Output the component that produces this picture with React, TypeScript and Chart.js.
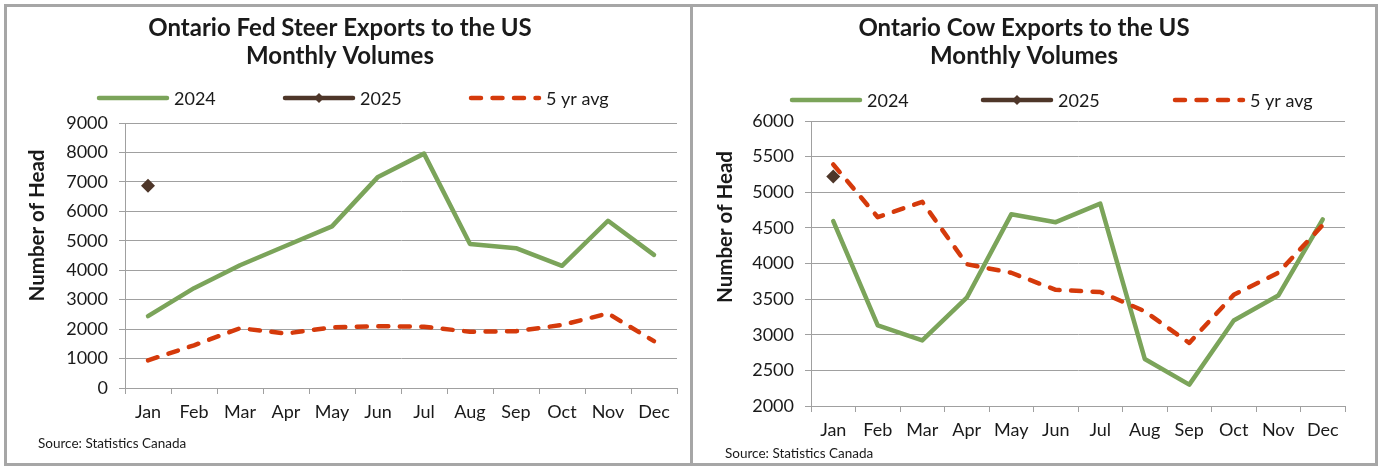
import React, { useEffect, useRef } from 'react';
import { Chart, registerables } from 'chart.js';

Chart.register(...registerables);

// ---------- data ----------
const months = ['Jan', 'Feb', 'Mar', 'Apr', 'May', 'Jun', 'Jul', 'Aug', 'Sep', 'Oct', 'Nov', 'Dec'];
const seriesLabels = ['2024', '2025', '5 yr avg'];

const steer2024 = [2440, 3390, 4170, 4830, 5490, 7170, 7960, 4890, 4750, 4150, 5680, 4520];
const steer2025 = [6870, null, null, null, null, null, null, null, null, null, null, null];
const steerAvg = [940, 1450, 2030, 1850, 2060, 2100, 2080, 1910, 1930, 2140, 2530, 1590];
const steerTicks = { min: 0, max: 9000, step: 1000 };

const cow2024 = [4595, 3130, 2920, 3520, 4690, 4580, 4840, 2660, 2300, 3200, 3550, 4620];
const cow2025 = [5220, null, null, null, null, null, null, null, null, null, null, null];
const cowAvg = [5390, 4650, 4865, 3990, 3870, 3630, 3600, 3330, 2885, 3560, 3870, 4540];
const cowTicks = { min: 2000, max: 6000, step: 500 };

const steerTitle = ['Ontario Fed Steer Exports to the US', 'Monthly Volumes'];
const cowTitle = ['Ontario Cow Exports to the US', 'Monthly Volumes'];
const yTitle = 'Number of Head';
const sourceText = 'Source: Statistics Canada';

// ---------- style ----------
const GREEN = '#7ba45a';
const BROWN = '#4e3629';
const RED = '#d53a0b';
const GRID = '#a0a0a0';
const TEXT = '#1a1a1a';
const FONT = 'Lato, "Open Sans", sans-serif';
const DASH = [10, 11.5];

type Panel = {
  title: string[];
  y2024: (number | null)[];
  y2025: (number | null)[];
  avg: (number | null)[];
  ticks: { min: number; max: number; step: number };
  width: number;
  height: number;
  padding: { top: number; right: number; bottom: number; left: number };
  titleX: number;
  titleY: number[];
  legendY: number;
  legendX: number[];
  yTitleX: number;
  yTitleY: number;
  sourceX: number;
  sourceY: number;
};

const panels: Panel[] = [
  {
    title: steerTitle,
    y2024: steer2024,
    y2025: steer2025,
    avg: steerAvg,
    ticks: steerTicks,
    width: 683,
    height: 456,
    padding: { top: 116, right: 13, bottom: 35, left: 0 },
    titleX: 333,
    titleY: [29, 57],
    legendY: 91,
    legendX: [90, 276, 462],
    yTitleX: 30.5,
    yTitleY: 218.5,
    sourceX: 31,
    sourceY: 441,
  },
  {
    title: cowTitle,
    y2024: cow2024,
    y2025: cow2025,
    avg: cowAvg,
    ticks: cowTicks,
    width: 682,
    height: 456,
    padding: { top: 114, right: 30, bottom: 17, left: 0 },
    titleX: 331,
    titleY: [29, 57],
    legendY: 93,
    legendX: [97, 288, 480],
    yTitleX: 32,
    yTitleY: 220,
    sourceX: 32,
    sourceY: 451,
  },
];

function decorPlugin(p: Panel) {
  return {
    id: 'decor',
    afterDraw(chart: any) {
      const ctx = chart.ctx as CanvasRenderingContext2D;
      ctx.save();
      // title
      ctx.fillStyle = TEXT;
      ctx.textAlign = 'center';
      ctx.textBaseline = 'alphabetic';
      ctx.font = `bold 24px ${FONT}`;
      p.title.forEach((t, i) => ctx.fillText(t, p.titleX, p.titleY[i]));

      // legend
      const ds = chart.data.datasets;
      ctx.font = `18px ${FONT}`;
      ctx.textAlign = 'left';
      ctx.textBaseline = 'middle';
      p.legendX.forEach((x, i) => {
        const d = ds[i];
        const y = p.legendY;
        ctx.save();
        ctx.strokeStyle = d.borderColor;
        ctx.lineWidth = 4.5;
        ctx.lineCap = 'round';
        if (d.borderDash) ctx.setLineDash(d.borderDash);
        ctx.beginPath();
        ctx.moveTo(x + 2, y);
        ctx.lineTo(x + 70, y);
        ctx.stroke();
        ctx.setLineDash([]);
        if (d.pointRadius > 0) {
          ctx.fillStyle = d.borderColor;
          const r = 5;
          const cx = x + 36;
          ctx.beginPath();
          ctx.moveTo(cx, y - r);
          ctx.lineTo(cx + r, y);
          ctx.lineTo(cx, y + r);
          ctx.lineTo(cx - r, y);
          ctx.closePath();
          ctx.fill();
        }
        ctx.restore();
        ctx.fillStyle = TEXT;
        ctx.fillText(d.label, x + 77, y + 1);
      });

      // y axis title
      ctx.save();
      ctx.translate(p.yTitleX, p.yTitleY);
      ctx.rotate(-Math.PI / 2);
      ctx.font = `bold 20.5px ${FONT}`;
      ctx.textAlign = 'center';
      ctx.textBaseline = 'middle';
      ctx.fillStyle = TEXT;
      ctx.fillText(yTitle, 0, 0);
      ctx.restore();

      // source
      ctx.font = `13.5px ${FONT}`;
      ctx.textAlign = 'left';
      ctx.textBaseline = 'alphabetic';
      ctx.fillStyle = TEXT;
      ctx.fillText(sourceText, p.sourceX, p.sourceY);
      ctx.restore();
    },
  };
}

function PanelChart({ p }: { p: Panel }) {
  const ref = useRef<HTMLCanvasElement | null>(null);
  useEffect(() => {
    if (!ref.current) return;
    const chart = new Chart(ref.current, {
      type: 'line',
      data: {
        labels: months,
        datasets: [
          {
            label: seriesLabels[0],
            data: p.y2024,
            borderColor: GREEN,
            backgroundColor: GREEN,
            borderWidth: 4.5,
            pointRadius: 0,
            borderJoinStyle: 'round',
            borderCapStyle: 'round',
            tension: 0,
            order: 2,
          },
          {
            label: seriesLabels[1],
            data: p.y2025,
            borderColor: BROWN,
            backgroundColor: BROWN,
            borderWidth: 4.5,
            pointStyle: 'rectRot',
            pointRadius: 7,
            pointBorderWidth: 0,
            pointBackgroundColor: BROWN,
            order: 1,
          },
          {
            label: seriesLabels[2],
            data: p.avg,
            borderColor: RED,
            backgroundColor: RED,
            borderWidth: 4.5,
            borderDash: DASH,
            borderCapStyle: 'round',
            borderJoinStyle: 'round',
            pointRadius: 0,
            tension: 0,
            order: 0,
          },
        ] as any,
      },
      options: {
        animation: false,
        responsive: false,
        devicePixelRatio: 1,
        layout: { padding: p.padding },
        plugins: {
          legend: { display: false },
          title: { display: false },
          tooltip: { enabled: false },
        },
        scales: {
          x: {
            type: 'category',
            offset: true,
            grid: {
              display: true,
              drawOnChartArea: false,
              drawTicks: true,
              tickLength: 6,
              offset: true,
              color: GRID,
              lineWidth: 1,
            },
            border: { display: true, color: GRID, width: 1 },
            ticks: {
              color: TEXT,
              font: { family: FONT, size: 18 },
              padding: 7,
              autoSkip: false,
              maxRotation: 0,
            },
            afterFit: (s: any) => {
              s.height = 40;
            },
          },
          y: {
            min: p.ticks.min,
            max: p.ticks.max,
            ticks: {
              stepSize: p.ticks.step,
              color: TEXT,
              font: { family: FONT, size: 18 },
              padding: 11,
              callback: (v: any) => String(v),
            },
            grid: { color: GRID, lineWidth: 1, tickLength: 6, drawTicks: true },
            border: { display: true, color: GRID, width: 1 },
            afterFit: (s: any) => {
              s.width = 118;
            },
          },
        },
      } as any,
      plugins: [decorPlugin(p)],
    });
    return () => chart.destroy();
  }, [p]);
  return <canvas ref={ref} width={p.width} height={p.height} style={{ display: 'block', width: p.width, height: p.height }} />;
}

export default function App() {
  const box: React.CSSProperties = {
    position: 'absolute',
    top: 4,
    height: 462,
    boxSizing: 'border-box',
    border: '3px solid #a6a6a6',
    background: '#ffffff',
  };
  return (
    <div style={{ position: 'absolute', left: 0, top: 0, width: 1378, height: 468, background: '#ffffff' }}>
      <div style={{ ...box, left: 4, width: 689 }}>
        <PanelChart p={panels[0]} />
      </div>
      <div style={{ ...box, left: 690, width: 688 }}>
        <PanelChart p={panels[1]} />
      </div>
    </div>
  );
}
